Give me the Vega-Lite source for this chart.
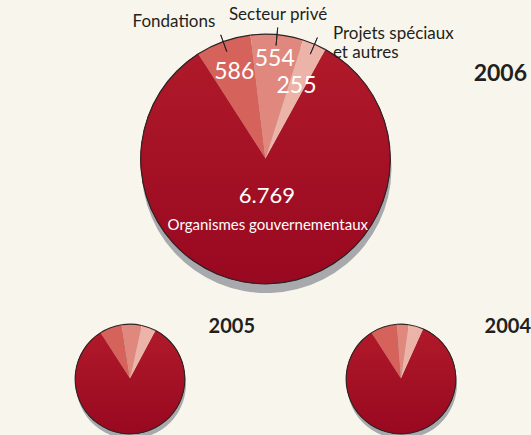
{
  "$schema": "https://vega.github.io/schema/vega-lite/v6.json",
  "background": "#f8f6ec",
  "padding": 0,
  "spacing": 5,
  "bounds": "flush",
  "config": {
    "view": {"stroke": null},
    "font": "Lato",
    "concat": {"spacing": 11},
    "locale": {"number": {"decimal": ",", "thousands": ".", "grouping": [3], "currency": ["", " $"]}}
  },
  "data": {
    "values": [
      {"year": 2006, "cat": "Fondations", "value": 586, "rank": 1},
      {"year": 2006, "cat": "Secteur privé", "value": 554, "rank": 2},
      {"year": 2006, "cat": "Projets spéciaux et autres", "value": 255, "rank": 3},
      {"year": 2006, "cat": "Organismes gouvernementaux", "value": 6769, "rank": 4},
      {"year": 2005, "cat": "Fondations", "value": 520, "rank": 1},
      {"year": 2005, "cat": "Secteur privé", "value": 460, "rank": 2},
      {"year": 2005, "cat": "Projets spéciaux et autres", "value": 340, "rank": 3},
      {"year": 2005, "cat": "Organismes gouvernementaux", "value": 6500, "rank": 4},
      {"year": 2004, "cat": "Fondations", "value": 620, "rank": 1},
      {"year": 2004, "cat": "Secteur privé", "value": 270, "rank": 2},
      {"year": 2004, "cat": "Projets spéciaux et autres", "value": 350, "rank": 3},
      {"year": 2004, "cat": "Organismes gouvernementaux", "value": 6600, "rank": 4}
    ]
  },
  "vconcat": [
    {
      "width": 531,
      "height": 318,
      "title": {"text": "2006", "anchor": "end", "frame": "group", "offset": -104, "fontSize": 23, "fontWeight": "bold", "color": "#231f20", "baseline": "alphabetic", "dx": -4, "font": "Lato"},
      "transform": [{"filter": "datum.year === 2006"}],
      "encoding": {
        "theta": {"field": "value", "type": "quantitative", "stack": true, "scale": {"range": [-0.5716, 5.7116]}},
        "order": {"field": "rank", "type": "quantitative"}
      },
      "layer": [
        {"mark": {"type": "arc", "outerRadius": 125, "fill": "#a8a9ad", "yOffset": 9, "xOffset": 1}},
        {
          "mark": {"type": "arc", "outerRadius": 125},
          "encoding": {
            "color": {"field": "cat", "type": "nominal", "legend": null,
              "scale": {"domain": ["Fondations", "Secteur privé", "Projets spéciaux et autres", "Organismes gouvernementaux"],
                        "range": ["#d6635b", "#e0887d", "#ecb4a8", "#a51323"]}}
          }
        },
        {
          "mark": {"type": "arc", "outerRadius": 125,
            "fill": {"gradient": "linear", "x1": 0, "y1": 0, "x2": 0, "y2": 1,
                     "stops": [{"offset": 0, "color": "#b01a2a"}, {"offset": 1, "color": "#980820"}]}},
          "encoding": {"fillOpacity": {"condition": {"test": "datum.cat === 'Organismes gouvernementaux'", "value": 1}, "value": 0}}
        },
        {"mark": {"type": "arc", "innerRadius": 124.2, "outerRadius": 125.4, "fill": "#2d2424"}},
        {
          "mark": {"type": "arc", "innerRadius": 114, "outerRadius": 132, "padAngle": 0.6, "fill": "transparent", "stroke": "#231f20", "strokeWidth": 0.9},
          "encoding": {"strokeOpacity": {"condition": {"test": "datum.cat === 'Organismes gouvernementaux'", "value": 0}, "value": 1}}
        },
        {
          "mark": {"type": "text", "radius": 92, "fontSize": 23, "color": "white", "font": "Lato"},
          "encoding": {"text": {"condition": {"test": "datum.cat === 'Fondations'", "field": "value", "format": ",d"}, "value": ""}}
        },
        {
          "mark": {"type": "text", "radius": 100, "fontSize": 23, "color": "white", "font": "Lato"},
          "encoding": {"text": {"condition": {"test": "datum.cat === 'Secteur privé'", "field": "value", "format": ",d"}, "value": ""}}
        },
        {
          "mark": {"type": "text", "radius": 79, "fontSize": 23, "color": "white", "font": "Lato"},
          "encoding": {"text": {"condition": {"test": "datum.cat === 'Projets spéciaux et autres'", "field": "value", "format": ",d"}, "value": ""}}
        },
        {
          "mark": {"type": "text", "radius": 37, "fontSize": 22, "color": "white", "font": "Lato"},
          "encoding": {"text": {"condition": {"test": "datum.cat === 'Organismes gouvernementaux'", "field": "value", "format": ",d"}, "value": ""}}
        },
        {
          "mark": {"type": "text", "radius": 66, "fontSize": 15, "color": "white", "font": "Lato"},
          "encoding": {"text": {"condition": {"test": "datum.cat === 'Organismes gouvernementaux'", "field": "cat"}, "value": ""}}
        },
        {
          "mark": {"type": "text", "radius": 136, "fontSize": 17, "color": "#231f20", "align": "right", "baseline": "bottom", "dx": -4, "font": "Lato"},
          "encoding": {"text": {"condition": {"test": "datum.cat === 'Fondations'", "field": "cat"}, "value": ""}}
        },
        {
          "mark": {"type": "text", "radius": 136, "fontSize": 17, "color": "#231f20", "align": "center", "baseline": "bottom", "font": "Lato"},
          "encoding": {"text": {"condition": {"test": "datum.cat === 'Secteur privé'", "field": "cat"}, "value": ""}}
        },
        {
          "mark": {"type": "text", "radius": 136, "fontSize": 17, "color": "#231f20", "align": "left", "baseline": "middle", "dx": 14, "lineBreak": "\n", "font": "Lato"},
          "encoding": {"text": {"condition": {"test": "datum.cat === 'Projets spéciaux et autres'", "value": "Projets spéciaux\net autres"}, "value": ""}}
        }
      ]
    },
    {
      "hconcat": [
        {
          "width": 260,
          "height": 112,
          "title": {"text": "2005", "anchor": "end", "frame": "group", "offset": -30, "fontSize": 20, "fontWeight": "bold", "color": "#231f20", "baseline": "alphabetic", "dx": -5, "font": "Lato"},
          "transform": [{"filter": "datum.year === 2005"}],
          "encoding": {
            "theta": {"field": "value", "type": "quantitative", "stack": true, "scale": {"range": [-0.5716, 5.7116]}},
            "order": {"field": "rank", "type": "quantitative"}
          },
          "layer": [
            {"mark": {"type": "arc", "outerRadius": 55, "fill": "#a8a9ad", "yOffset": 5, "xOffset": 1}},
            {
              "mark": {"type": "arc", "outerRadius": 55},
              "encoding": {
                "color": {"field": "cat", "type": "nominal", "legend": null,
                  "scale": {"domain": ["Fondations", "Secteur privé", "Projets spéciaux et autres", "Organismes gouvernementaux"],
                            "range": ["#d6635b", "#e0887d", "#ecb4a8", "#a51323"]}}
              }
            },
            {
              "mark": {"type": "arc", "outerRadius": 55,
                "fill": {"gradient": "linear", "x1": 0, "y1": 0, "x2": 0, "y2": 1,
                         "stops": [{"offset": 0, "color": "#b01a2a"}, {"offset": 1, "color": "#980820"}]}},
              "encoding": {"fillOpacity": {"condition": {"test": "datum.cat === 'Organismes gouvernementaux'", "value": 1}, "value": 0}}
            },
            {"mark": {"type": "arc", "innerRadius": 54.3, "outerRadius": 55.4, "fill": "#2d2424"}}
          ]
        },
        {
          "width": 260,
          "height": 112,
          "title": {"text": "2004", "anchor": "end", "frame": "group", "offset": -30, "fontSize": 20, "fontWeight": "bold", "color": "#231f20", "baseline": "alphabetic", "dx": 0, "font": "Lato"},
          "transform": [{"filter": "datum.year === 2004"}],
          "encoding": {
            "theta": {"field": "value", "type": "quantitative", "stack": true, "scale": {"range": [-0.5716, 5.7116]}},
            "order": {"field": "rank", "type": "quantitative"}
          },
          "layer": [
            {"mark": {"type": "arc", "outerRadius": 55, "fill": "#a8a9ad", "yOffset": 5, "xOffset": 1}},
            {
              "mark": {"type": "arc", "outerRadius": 55},
              "encoding": {
                "color": {"field": "cat", "type": "nominal", "legend": null,
                  "scale": {"domain": ["Fondations", "Secteur privé", "Projets spéciaux et autres", "Organismes gouvernementaux"],
                            "range": ["#d6635b", "#e0887d", "#ecb4a8", "#a51323"]}}
              }
            },
            {
              "mark": {"type": "arc", "outerRadius": 55,
                "fill": {"gradient": "linear", "x1": 0, "y1": 0, "x2": 0, "y2": 1,
                         "stops": [{"offset": 0, "color": "#b01a2a"}, {"offset": 1, "color": "#980820"}]}},
              "encoding": {"fillOpacity": {"condition": {"test": "datum.cat === 'Organismes gouvernementaux'", "value": 1}, "value": 0}}
            },
            {"mark": {"type": "arc", "innerRadius": 54.3, "outerRadius": 55.4, "fill": "#2d2424"}}
          ]
        }
      ]
    }
  ]
}
